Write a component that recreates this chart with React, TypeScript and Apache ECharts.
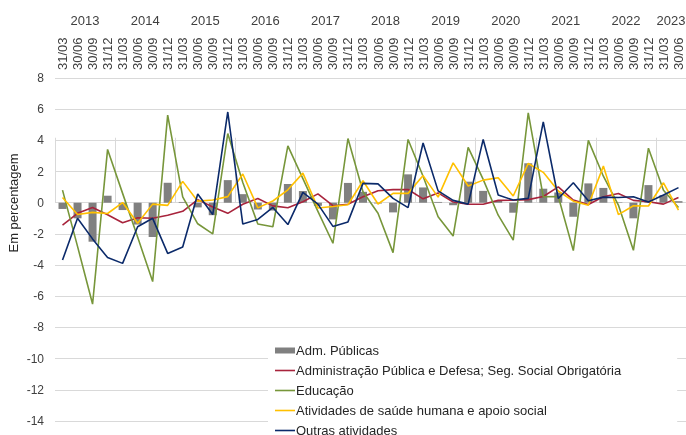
import React, { useEffect, useRef } from "react";
import * as echarts from "echarts";

const years = ["2013", "2014", "2015", "2016", "2017", "2018", "2019", "2020", "2021", "2022", "2023"];
const quarterEnds = ["31/03", "30/06", "30/09", "31/12"];
const quartersPerYear = [4, 4, 4, 4, 4, 4, 4, 4, 4, 4, 2];

const admPublicas = [
  -0.4, -1.0, -2.5, 0.45, -0.47, -1.4, -2.2, 1.28, 0.05, -0.3, -0.8, 1.45, 0.55, -0.43,
  -0.5, 1.2, 0.75, -0.2, -1.07, 1.27, 0.7, -0.05, -0.62, 1.82, 0.98, 0.05, -0.16, 1.35,
  0.76, 0.12, -0.64, 2.53, 0.9, 0.66, -0.9, 1.24, 0.95, 0.03, -1.0, 1.13, 0.49, 0.1,
];
const adminDefesa = [
  -1.44, -0.68, -0.31, -0.77, -1.28, -0.96, -1.0, -0.8, -0.55, 0.2, -0.27, -0.68, -0.1, 0.27,
  -0.2, -0.32, 0.06, 0.57, -0.19, -0.1, 0.38, 0.77, 0.84, 0.85, 0.25, 0.63, 0.05, -0.09,
  -0.1, 0.15, 0.16, 0.2, 0.4, 1.02, 0.17, -0.11, 0.38, 0.59, 0.15, 0.06, -0.09, 0.34,
];
const educacao = [
  0.81, -2.8, -6.5, 3.42, 0.6, -2.2, -5.06, 5.62, 0.38, -1.35, -2.0, 4.44, 1.3, -1.37,
  -1.54, 3.65, 1.55, -0.55, -2.6, 4.12, 0.7, -0.68, -3.2, 4.06, 1.7, -0.9, -2.14, 3.55,
  1.5, -0.8, -2.4, 5.77, 0.38, 0.4, -3.07, 4.0, 1.7, -0.15, -3.05, 3.5, 0.8, -0.3,
];
const saude = [
  0.33, -0.75, -0.62, -0.69, 0.01, -1.32, -0.09, -0.17, 1.37, 0.1, 0.17, 0.39, 1.84, -0.33,
  0.11, 0.83, 1.9, -0.34, -0.24, -0.13, 1.41, -0.08, 0.6, 0.6, 1.74, 0.36, 2.56, 1.07,
  1.45, 1.6, 0.43, 2.52, 1.95, 0.75, 0.1, -0.16, 2.35, -0.76, -0.19, -0.21, 1.28, -0.47,
];
const outras = [
  -3.68, -1.0, -2.32, -3.52, -3.89, -1.54, -1.0, -3.25, -2.84, 0.56, -0.76, 5.82, -1.37, -1.07,
  -0.3, -1.4, 0.66, -0.09, -1.52, -1.23, 1.24, 1.21, 0.28, -0.31, 3.83, 0.76, 0.15, -0.09,
  4.06, 0.5, 0.17, 0.28, 5.19, 0.27, 1.28, 0.13, 0.36, 0.34, 0.38, 0.05, 0.49, 0.97,
];

const seriesNames = [
  "Adm. Públicas",
  "Administração Pública e Defesa; Seg. Social Obrigatória",
  "Educação",
  "Atividades de saúde humana e apoio social",
  "Outras atividades",
];

const FONT = "'Liberation Sans', Arial, sans-serif";
const LINE_ICON = "path://M0,0H20V1.6H0Z";

export default function App() {
  const ref = useRef<HTMLDivElement>(null);

  useEffect(() => {
    if (!ref.current) return;
    const chart = echarts.init(ref.current, undefined, { renderer: "svg" });

    const categories: string[] = [];
    const yearCenters: Record<string, string> = {};
    let idx = 0;
    years.forEach((y, yi) => {
      const n = quartersPerYear[yi];
      yearCenters[String(idx + n / 2)] = y;
      for (let q = 0; q < n; q++) categories.push(quarterEnds[q]);
      idx += n;
    });
    const total = categories.length;

    const lineStyle = (color: string) => ({
      type: "line" as const,
      symbol: "none",
      lineStyle: { color, width: 1.6 },
      itemStyle: { color },
      xAxisIndex: 0,
      yAxisIndex: 0,
    });

    chart.setOption({
      animation: false,
      grid: {
        left: 55,
        right: 0,
        top: 78,
        bottom: 14,
        containLabel: false,
        outerBoundsMode: "none",
      },
      xAxis: [
        {
          type: "category",
          position: "top",
          data: categories,
          boundaryGap: true,
          axisLine: { show: false },
          axisTick: {
            show: true,
            interval: (i: number) => i % 4 === 0,
            length: 65,
            lineStyle: { color: "#d9d9d9", width: 1 },
          },
          axisLabel: {
            interval: 0,
            rotate: 90,
            margin: 8,
            fontSize: 13,
            fontFamily: FONT,
            color: "#404040",
          },
          splitLine: { show: false },
        },
        {
          type: "value",
          position: "top",
          min: 0,
          max: total,
          interval: 1,
          axisLine: { show: false },
          axisTick: { show: false },
          splitLine: { show: false },
          axisLabel: {
            margin: 51,
            fontSize: 13,
            fontFamily: FONT,
            color: "#404040",
            showMinLabel: true,
            showMaxLabel: true,
            formatter: (v: number) => yearCenters[String(v)] || "",
          },
        },
      ],
      yAxis: {
        type: "value",
        min: -14,
        max: 8,
        interval: 2,
        axisLine: { show: false },
        axisTick: { show: false },
        axisLabel: {
          margin: 11,
          fontSize: 12,
          fontFamily: FONT,
          color: "#404040",
        },
        splitLine: { show: true, lineStyle: { color: "#d9d9d9", width: 1 } },
      },
      legend: {
        orient: "vertical",
        left: 268,
        top: 338,
        height: 140,
        padding: [6, 56, 12, 7],
        backgroundColor: "#ffffff",
        itemWidth: 20,
        itemHeight: 6,
        itemGap: 7,
        textStyle: { fontSize: 13, fontFamily: FONT, color: "#262626", padding: [0, 0, 0, -4] },
        data: [
          { name: seriesNames[0], icon: "rect" },
          { name: seriesNames[1], icon: LINE_ICON },
          { name: seriesNames[2], icon: LINE_ICON },
          { name: seriesNames[3], icon: LINE_ICON },
          { name: seriesNames[4], icon: LINE_ICON },
        ],
      },
      graphic: [
        {
          type: "text",
          x: 13,
          y: 203,
          rotation: Math.PI / 2,
          style: {
            text: "Em percentagem",
            font: `13px ${FONT}`,
            fill: "#262626",
            align: "center",
            verticalAlign: "middle",
          },
        },
      ],
      series: [
        {
          name: seriesNames[0],
          type: "bar",
          data: admPublicas,
          barWidth: 8,
          itemStyle: { color: "#808080" },
          xAxisIndex: 0,
          yAxisIndex: 0,
        },
        { name: seriesNames[1], data: adminDefesa, ...lineStyle("#a8243c") },
        { name: seriesNames[2], data: educacao, ...lineStyle("#77963a") },
        { name: seriesNames[3], data: saude, ...lineStyle("#ffc000") },
        { name: seriesNames[4], data: outras, ...lineStyle("#0b2a6a") },
      ],
    });

    return () => chart.dispose();
  }, []);

  return (
    <div
      ref={ref}
      style={{ position: "fixed", left: 0, top: 0, width: 686, height: 435 }}
    />
  );
}
